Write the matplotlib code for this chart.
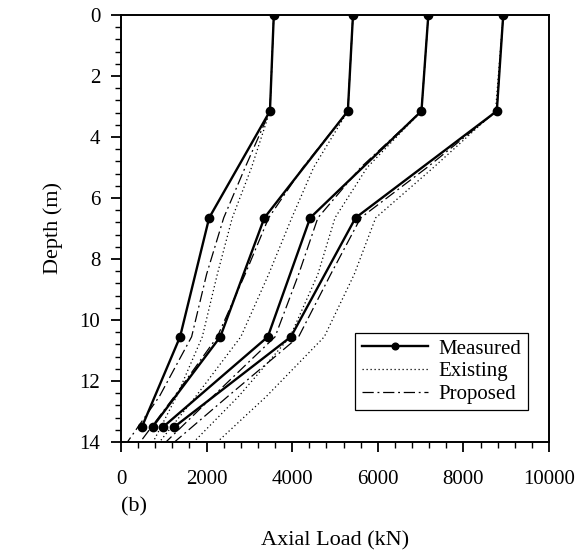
import matplotlib
matplotlib.use("Agg")
import matplotlib.pyplot as plt
from matplotlib.ticker import MultipleLocator

plt.rcParams['font.family'] = ['Liberation Serif', 'DejaVu Serif']

### DATA ###
# measured axial load (kN) at each gauge depth (m), one list per load step
meas_depth = [0, 3.15, 6.65, 10.55, 13.5]
meas_1 = [3570, 3480, 2060, 1380, 490]
meas_2 = [5420, 5300, 3350, 2320, 740]
meas_3 = [7180, 7020, 4420, 3430, 990]
meas_4 = [8930, 8780, 5480, 3970, 1250]

# predicted load transfer curves
model_depth = [0, 3.15, 5.0, 6.65, 8.5, 10.55, 12.5, 14]
exist_1 = [3570, 3480, 3050, 2600, 2250, 1900, 1300, 750]
exist_2 = [5420, 5300, 4500, 3990, 3450, 2800, 1750, 900]
exist_3 = [7180, 7020, 5750, 5000, 4600, 3950, 2750, 1700]
exist_4 = [8930, 8750, 7300, 5950, 5450, 4750, 3400, 2250]

prop_1 = [3570, 3480, 2900, 2400, 2000, 1650, 900, 150]
prop_2 = [5420, 5300, 4250, 3450, 2900, 2250, 1250, 450]
prop_3 = [7180, 7020, 5600, 4600, 4150, 3600, 2150, 1050]
prop_4 = [8930, 8780, 7150, 5600, 4900, 4150, 2500, 1250]

measured = [meas_1, meas_2, meas_3, meas_4]
existing = [exist_1, exist_2, exist_3, exist_4]
proposed = [prop_1, prop_2, prop_3, prop_4]

### PLOT ###
fig = plt.figure(figsize=(5.8, 5.53), dpi=100)
ax = fig.add_axes([0.2086, 0.2007, 0.7380, 0.7722])

for i in range(4):
    ax.plot(existing[i], model_depth, color='k', linestyle=(0, (1, 2.2)), linewidth=0.9,
            label='Existing' if i == 0 else None)
    ax.plot(proposed[i], model_depth, color='k', linestyle=(0, (9, 3, 1.5, 3)), linewidth=0.9,
            label='Proposed' if i == 0 else None)
    ax.plot(measured[i], meas_depth, color='k', linewidth=1.7, marker='o', markersize=6,
            label='Measured' if i == 0 else None)

ax.set_xlim(0, 10000)
ax.set_ylim(14, 0)

ax.xaxis.set_major_locator(MultipleLocator(2000))
ax.xaxis.set_minor_locator(MultipleLocator(400))
ax.yaxis.set_major_locator(MultipleLocator(2))
ax.yaxis.set_minor_locator(MultipleLocator(0.4))
ax.tick_params(which='major', direction='out', length=7, width=1.3, labelsize=15, pad=8)
ax.tick_params(axis='x', which='major', pad=13)
ax.tick_params(which='minor', direction='out', length=4, width=1.0)
ax.tick_params(top=False, right=False)
for s in ax.spines.values():
    s.set_linewidth(1.4)

ax.set_ylabel('Depth (m)', fontsize=16, labelpad=12)
fig.text(0.208, 0.083, '(b)', fontsize=16, ha='left', va='center')
fig.text(0.578, 0.022, 'Axial Load (kN)', fontsize=16, ha='center', va='center')

# legend order: measured, existing, proposed
handles, labels = ax.get_legend_handles_labels()
order = [labels.index('Measured'), labels.index('Existing'), labels.index('Proposed')]
leg = ax.legend([handles[k] for k in order], [labels[k] for k in order],
                loc='lower right', bbox_to_anchor=(0.975, 0.05), fontsize=15,
                fancybox=False, framealpha=1, edgecolor='k', handlelength=3.2,
                handletextpad=0.5, borderpad=0.3, labelspacing=0.15, markerscale=0.8)
leg.get_frame().set_linewidth(0.9)

fig.savefig('out.png', dpi=100)
